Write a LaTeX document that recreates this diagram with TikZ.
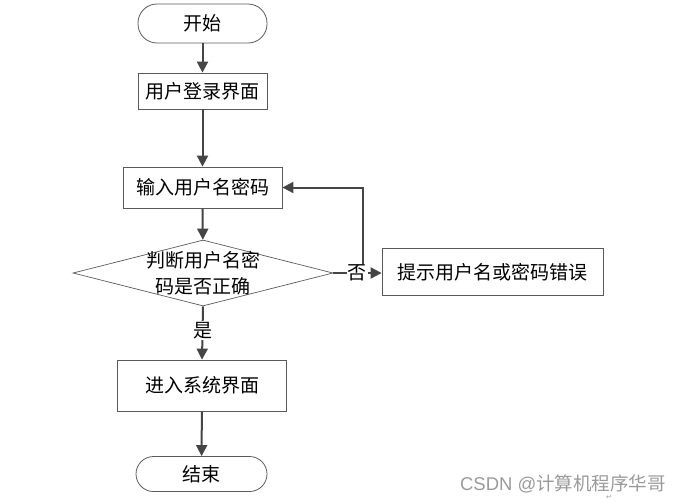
\documentclass[tikz,border=0pt]{standalone}
\usepackage{fontspec}
\setmainfont{Noto Sans CJK SC}
\newfontfamily\latinsans{Liberation Sans}
\newfontfamily\dejavu{DejaVu Sans}
\usetikzlibrary{arrows.meta,shapes.geometric}
\definecolor{linec}{HTML}{454545}
\definecolor{borderc}{HTML}{5A5A5A}
\definecolor{wm}{HTML}{9A9A9A}
\begin{document}
\begin{tikzpicture}[x=1pt,y=-1pt,
  every node/.style={font=\fontsize{19}{26}\selectfont, text=black, inner sep=0pt},
  box/.style={draw=borderc, line width=0.8pt},
  term/.style={draw=borderc, line width=0.8pt, rounded corners=19pt},
  flow/.style={draw=linec, line width=2pt, -{Triangle[length=11pt,width=11pt]}},
  lbl/.style={fill=white, inner sep=1pt}]
\useasboundingbox (0,0) rectangle (684,501);

\node[term, minimum width=129pt, minimum height=39pt] (start) at (202.5,23.5) {开始};
\node[box, minimum width=129pt, minimum height=36pt] (login) at (202.5,91) {用户登录界面};
\node[box, minimum width=159pt, minimum height=41pt] (input) at (202.5,187.5) {输入用户名密码};
\node[diamond, draw=borderc, line width=0.7pt, minimum width=260pt, minimum height=66pt] (dec) at (203,273) {};
\node[align=center] (dect) at (203,273) {判断用户名密\\码是否正确};
\node[box, minimum width=221pt, minimum height=47pt] (err) at (492.5,272) {提示用户名或密码错误};
\node[box, minimum width=169pt, minimum height=51pt] (sys) at (202,385.5) {进入系统界面};
\node[term, minimum width=131pt, minimum height=35pt, rounded corners=17.5pt] (end) at (201.5,474) {结束};

\coordinate (j) at (363,273);

\draw[flow] (start) -- (login);
\draw[flow] (login) -- (input);
\draw[flow] (input) -- (dec);
\draw[flow] (j) |- (input.east);
\draw[flow] (dec.east) -- node[lbl]{否} (dec.east -| err.west);
\draw[flow] (dec.south) -- node[lbl, pos=0.45]{是} (sys.north);
\draw[flow] (sys) -- (end);

\node[text=wm] (wmark) at (563,484) {\fontsize{18.5}{18.5}\selectfont{\latinsans CSDN @}计算机程序华哥};
\node[text=wm, font=\dejavu\fontsize{7}{7}\selectfont] (ret) at (609,497) {↵};
\end{tikzpicture}
\end{document}
